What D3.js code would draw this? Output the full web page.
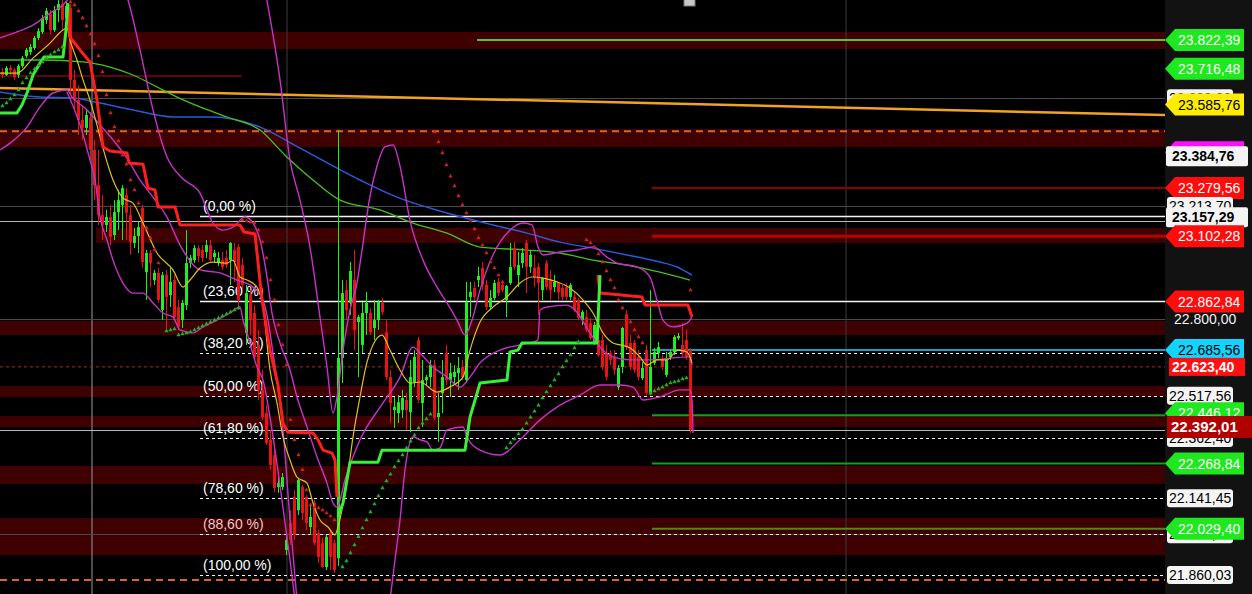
<!DOCTYPE html>
<html><head><meta charset="utf-8">
<script src="https://cdn.jsdelivr.net/npm/d3@7"></script>
<style>
body{margin:0;background:#000;overflow:hidden}
svg{display:block;font-family:"Liberation Sans",Arial,sans-serif}
</style></head>
<body><svg id="c" width="1252" height="594"></svg>
<script>
// ---------------- DATA ----------------
const candleOpen=[23705,23694,23720,23712,23694,23727,23764,23778,23793,23830,23852,23896,23918,23859,23932,23954,23903,23940,23676,23602,23529,23500,23536,23419,23290,23180,23144,23173,23107,23191,23217,23254,23180,23078,23103,23206,22971,23041,22942,22968,22832,22960,22887,22942,22843,22795,22850,23004,23015,23059,23052,23045,23070,23026,23008,23015,23023,23015,23052,23063,22997,22748,22887,22821,22704,22539,22454,22356,22300,22183,22183,21952,22051,22146,22098,22183,22146,22036,22124,22014,21977,21889,22014,21977,21922,22656,22905,22858,22942,22788,22704,22821,22821,22766,22795,22858,22751,22586,22465,22454,22465,22502,22458,22564,22722,22491,22575,22586,22630,22439,22527,22674,22575,22586,22601,22623,22575,22880,22913,22942,22986,22924,22843,22876,22935,22924,22869,22931,23059,22960,23004,23078,22990,22986,22990,22905,23004,22942,22916,22931,22913,22916,22880,22880,22869,22795,22806,22784,22715,22722,22722,22674,22674,22660,22549,22623,22814,22711,22711,22660,22582,22685,22528,22638,22674,22649,22594,22660,22678,22729,22704,22722,22685];
const candleHigh=[23720,23727,23731,23720,23734,23764,23793,23808,23837,23866,23914,23940,23932,23947,23969,23969,23962,23954,23712,23657,23584,23566,23558,23456,23419,23254,23199,23217,23235,23272,23290,23279,23217,23133,23155,23217,23052,23052,22979,22986,22971,22979,22986,22960,22869,22869,23125,23034,23070,23070,23070,23089,23089,23052,23045,23045,23052,23081,23078,23074,23023,22924,22905,22850,22759,22612,22483,22392,22337,22219,22234,22007,22098,22172,22216,22190,22153,22117,22135,22025,21996,22007,22025,21989,23492,22942,22942,23008,23052,22814,22861,22898,22839,22869,22869,22876,22795,22612,22513,22520,22539,22527,22649,22685,22733,22649,22594,22649,22649,22527,22649,22704,22638,22630,22660,22649,22935,22935,22935,22990,23008,22942,22905,22942,22949,22942,22924,23078,23081,23045,23059,23089,23052,23034,23004,22953,23015,22979,22960,22935,22924,22931,22931,22898,22876,22832,22832,22803,22788,22740,22740,22704,22685,22685,22630,22770,22832,22740,22722,22685,22641,22704,22905,22693,22715,22667,22678,22685,22740,22748,22784,22759,22693];
const candleLow=[23683,23690,23694,23676,23683,23720,23756,23767,23786,23822,23844,23881,23844,23852,23888,23859,23859,23621,23566,23474,23456,23474,23382,23235,23144,23089,23118,23070,23089,23125,23089,23089,23034,23059,23041,22986,22869,22916,22924,22858,22795,22759,22843,22795,22759,22766,22832,22986,23004,23008,23008,23023,23008,23008,22993,22979,22986,22924,22935,22832,22905,22704,22740,22649,22502,22429,22337,22246,22164,22161,22172,21933,21970,21989,22080,22062,22025,22007,21970,21904,21886,21878,21878,21867,21893,22564,22795,22814,22685,22586,22674,22740,22740,22722,22759,22814,22575,22417,22399,22417,22436,22392,22384,22549,22491,22403,22557,22549,22429,22348,22454,22557,22513,22557,22539,22575,22564,22806,22869,22916,22905,22832,22832,22869,22883,22898,22806,22924,22979,22916,22986,22894,22968,22916,22814,22869,22905,22869,22898,22869,22869,22869,22869,22825,22795,22777,22751,22722,22704,22660,22612,22575,22630,22594,22539,22601,22685,22612,22601,22575,22575,22520,22520,22630,22656,22612,22586,22649,22667,22722,22660,22649,22381];
const candleClose=[23694,23720,23712,23687,23727,23756,23786,23797,23830,23855,23903,23929,23859,23932,23954,23896,23947,23676,23602,23529,23500,23547,23419,23290,23180,23144,23173,23100,23191,23235,23279,23188,23081,23103,23136,23008,23041,23004,22968,22869,22960,22880,22935,22806,22770,22858,23004,23023,23059,23030,23023,23070,23015,23041,23023,22990,22997,23078,23008,22869,22924,22894,22795,22660,22539,22439,22344,22263,22179,22197,22219,21989,21989,22007,22209,22087,22051,22073,21977,21926,21889,22000,21926,21878,22656,22894,22832,22975,22759,22806,22821,22858,22751,22795,22861,22825,22586,22491,22476,22494,22509,22465,22586,22660,22502,22575,22586,22630,22436,22454,22586,22575,22601,22605,22619,22586,22861,22898,22880,22957,22924,22843,22876,22931,22894,22905,22920,22990,22990,22997,23041,22990,23034,22953,22931,22949,22916,22905,22935,22898,22880,22880,22924,22832,22803,22825,22759,22729,22777,22667,22623,22586,22649,22612,22619,22766,22696,22623,22612,22586,22619,22528,22623,22678,22696,22623,22649,22678,22733,22737,22674,22660,22392];
// parabolic SAR per candle (null = no dot)
const sarValue=[23580,23591,23606,23621,23639,23665,23683,23701,23716,23731,23742,23756,23767,23778,23786,23797,null,23962,23951,23929,23903,23874,23844,23808,23764,23705,23621,23555,23503,23452,23400,23367,23309,23272,23224,23180,23133,23096,23052,23004,null,22755,22759,22762,22740,22744,22748,22751,22759,22766,22773,22781,22788,22795,22803,22810,22817,22825,22832,22839,23162,23158,23155,23151,23125,23081,23023,22942,22869,22777,22704,22630,22429,22356,22300,22246,22172,22117,22109,22106,22098,22087,22076,22062,null,21889,21911,21941,21970,22000,22032,22062,22091,22120,22150,22179,22205,22230,22256,22278,22300,22326,22351,22373,22399,22417,22432,22450,23485,23448,23408,23364,23323,23287,23250,23217,23188,23158,23129,23096,23070,23041,23008,22986,22960,22935,22326,22344,22359,22377,22395,22417,22439,22461,22483,22509,22531,22553,22575,22597,22623,22645,22667,22693,22715,null,23089,23078,23063,23037,23008,22975,22942,22913,22869,22839,22814,22788,22759,22733,22711,22663,22527,22535,22542,22549,22557,22564,22568,22572,22579,22583,22905];
// indicator lines: [candle index, price]
const maFast=[[-0.5,23701],[3.75,23701],[7.75,23756],[12,23811],[15.25,23859],[16.25,23866],[17,23822],[18.75,23749],[20.25,23676],[22,23602],[23.75,23510],[25.25,23426],[27.75,23309],[30.25,23243],[32.75,23224],[35.25,23151],[38.75,23041],[42.75,22979],[45.25,22916],[47,22942],[49.5,22986],[52.75,23008],[56.25,23004],[57.75,23015],[59.5,22953],[61.25,22942],[63.75,22916],[65.25,22843],[67,22612],[68.75,22491],[70.25,22366],[72,22282],[73.75,22219],[76.25,22197],[77.75,22124],[79.5,22062],[81.5,22036],[83.25,22007],[84,22036],[86.25,22209],[87.75,22366],[89.5,22513],[91.25,22641],[95,22740],[97,22685],[99.5,22612],[102,22564],[104.5,22568],[108.75,22531],[112,22550],[115.25,22586],[117,22685],[119.5,22788],[122.75,22843],[126.25,22880],[129.5,22931],[132.5,22953],[135.25,22949],[138.75,22935],[142,22913],[145.25,22869],[147.75,22821],[150.25,22748],[152.75,22711],[154.5,22704],[157,22693],[159.5,22660],[161.25,22630],[163.75,22649],[166.25,22649],[169,22685],[171.25,22678],[172.5,22638]];
const maBlue=[[-0.5,23632],[9.5,23613],[17.75,23610],[24.5,23591],[32.75,23566],[42.75,23540],[52.75,23540],[64.5,23503],[74.5,23426],[89.5,23309],[98.75,23246],[111.25,23188],[122.75,23144],[131.25,23114],[139.5,23081],[147.75,23059],[156.25,23034],[164.5,23008],[168.75,22990],[172.5,22960]];
const maGreen=[[-0.5,23749],[10.25,23749],[20.25,23742],[27,23723],[32.75,23694],[38.75,23650],[43.75,23613],[49.5,23577],[56.25,23540],[64.5,23492],[70.75,23400],[77.75,23309],[84.5,23235],[94.5,23199],[102.75,23151],[111.25,23114],[119.5,23063],[131.25,23052],[139.5,23041],[147.75,23015],[156.25,22997],[164.5,22971],[172,22942]];
const bandLine1=[[-0.5,23830],[3.75,23852],[7.75,23877],[12,23921],[15.25,23951],[18.25,24006]];
const bandLine2=[[29.5,24042],[31.5,23969],[34.5,23786],[37.75,23566],[41.25,23393],[45,23316],[49.5,23261],[52.75,23151],[55.25,23125],[57.75,23136],[60.75,23173],[62.75,23151],[64.5,23089],[66.25,22953],[67.5,22821],[69.5,22711],[72,22612],[73.75,22513],[76.25,22403],[78.75,22293],[81.25,22197],[82.75,22124],[83.75,22109],[85.75,22209],[89.5,22356],[95.25,22491],[99.5,22586],[102.75,22696],[104.5,22674],[107.75,22623],[111.25,22586],[114.5,22549],[117,22586],[119.5,22638],[124.5,22685],[129.5,22704],[134,22722],[134.5,22832],[136.25,22843],[141.25,22850],[143.25,22832],[147,22748],[149.5,22696],[152.75,22660],[157,22649],[161.25,22649],[172,22660],[172.5,22630]];
const bandLine3=[[-0.5,23419],[2,23444],[6.25,23503],[9.5,23577],[12.75,23628],[16.25,23639],[17.5,23613],[21.25,23566],[24.5,23511],[27.75,23456],[31.25,23389],[34.5,23309],[37.75,23246],[41.25,23173],[44.5,23070],[49.5,22979],[54.5,22968],[58.75,22942],[62.75,22916],[65.25,22869],[66.5,22795],[67.75,22674],[68.75,22575],[70.25,22392],[72,22062],[73.75,21768]];
const bandLine4=[[16.25,23632],[19.5,23511],[22,23382],[23.25,23309],[24.5,23173],[26.25,23089],[27.75,23015],[30.25,22931],[32.75,22894],[35.25,22894],[37.75,22858],[40.25,22821],[42.75,22806],[44.5,22759],[47.75,22748],[50.25,22770],[53.75,22795],[57,22821],[59.5,22843],[60.25,22795],[61.25,22748],[63.75,22623],[65.25,22575],[67.5,22392],[70,22135],[72,21915],[73.25,21768]];
const bandLine5=[[65.75,24006],[69.5,23676],[72,23382],[74.5,23235],[77,23063],[79.5,22806],[81.25,22623],[82.75,22454],[83.75,22513],[85.25,22685],[87,22832],[88.75,22931],[90,23052],[92,23250],[93.75,23360],[95.75,23430],[97.75,23437],[99.5,23360],[102,23160],[105.25,23015],[108.75,22916],[111.25,22858],[113.75,22795],[115.75,22740],[117.5,22795],[119.5,22905],[122.75,23034],[127,23125],[130.25,23151],[132.5,23144],[134,23063],[135.25,23034],[139.5,23045],[143.75,23052],[147.75,23063],[151.25,23026],[153.75,23004],[158.75,22990],[162,22953],[163.75,22869],[165.25,22795],[167.75,22770],[171.25,22784],[172.5,22806]];
const bandLine6=[[97,21768],[98.25,21915],[99.5,22062],[100.75,22246],[102.75,22366],[104.5,22356],[106.25,22348],[107.75,22318],[109.5,22326],[111.25,22392],[115.25,22403],[116.25,22366],[119.5,22318],[124.5,22300],[129.5,22356],[134.5,22429],[139.5,22483],[144.5,22520],[149.5,22557],[154.5,22557],[157.75,22549],[160.25,22502],[164.5,22513],[169.5,22539],[172,22539],[172.5,22502],[172.75,22381]];
const trendDown1=[[16.5,23951],[17,23833],[19.5,23786],[22,23742],[23.75,23602],[25.25,23430],[27,23415],[31.25,23408],[31.75,23371],[35.25,23367],[36.5,23279],[38.25,23272],[39,23210],[43.25,23210],[44.5,23144],[59.5,23144],[60.5,23118],[63.25,23111],[65,22869],[67,22685],[69,22557],[70.25,22417],[71.5,22384],[77.75,22381],[79,22356],[80.25,22318],[82.5,22307],[83.25,22282],[83.75,22146]];
const trendDown2=[[149,22960],[149.5,22894],[160,22880],[160.75,22850],[171.5,22850],[172.5,22806]];
const trendUp1=[[-0.5,23555],[3.75,23555],[5,23584],[6.25,23628],[7.75,23694],[9.5,23738],[10.5,23760],[15.25,23760],[16,23859],[16.5,23958]];
const trendUp2=[[84,22073],[85.25,22124],[87,22274],[94,22274],[95,22318],[115.75,22318],[117,22439],[119.5,22564],[126.25,22575],[127,22678],[129,22685],[130,22711],[148.75,22711],[149.5,22960]];
const orangeTrend=[[-0.5,23646],[290.75,23547]];
// zones
const zoneHigh=[23852,23496,23133,22792,22553,22443,22260,22069];
const zoneLow=[23789,23430,23078,22740,22513,22403,22194,21933];
const zoneStart=[-0.5,-0.5,23.5,-0.5,-0.5,-0.5,-0.5,-0.5];
// fibonacci
const fibPrices=[23175.09,22864.74,22672.74,22517.56,22362.40,22141.45,22009.95,21860.03];
const fibLabels=["(0,00 %)","(23,60 %)","(38,20 %)","(50,00 %)","(61,80 %)","(78,60 %)","(88,60 %)","(100,00 %)"];
const fibDashed=[false,false,true,true,true,true,true,true];
// level lines
const levelPrices=[23822.39,23279.56,23102.28,22685.56,22446.12,22268.84,22029.40];
const levelColors=["#62c11a","#8c0000","#b80000","#1a9cc4","#1c9a1c","#1c9a1c","#4f8a12"];
const levelWidths=[2,2,3,2,2,2,2];
const levelStart=[118.75,162.5,162.5,162.5,162.5,162.5,162.5];
const grayLinePrices=[23609,23213.70,22800,22009.95];
const lightLinePrices=[23157.29,22392.01];
// price tags
const tagPrices=[23609.00,23822.39,23716.48,23585.76,23411.00,23384.76,23279.56,23213.70,23157.29,23102.28,22862.84,22685.56,22623.40,22517.56,22446.12,22362.40,22392.01,22268.84,22141.45,22009.95,22029.40,21860.03];
const tagKinds=["white","green","green","yellow","magenta","whiteBold","red","white","whiteBold","red","red","cyan","redRect","white","green","white","darkRed","green","white","white","green","white"];
const axisTicks=[22800.00];
const gridIdx=[22.5,71.25,211];

// ---------------- CHART ----------------
const W=1252,H=594,PR=1165;
// pixel nudges for stacked price tags (layout only)
const tagNudge={5:-3,8:-4,14:-2,16:-3};
const svg=d3.select("#c");
const x=d3.scaleLinear().domain([0,290.75]).range([2,PR]);
const y=d3.scaleLinear().domain([21860.03,23822.39]).range([575,40]);
const fmt=d3.formatLocale({decimal:",",thousands:".",grouping:[3],currency:["",""]}).format(",.2f");

svg.append("rect").attr("width",W).attr("height",H).attr("fill","#000");
svg.append("rect").attr("x",PR).attr("width",W-PR).attr("height",H).attr("fill","#121212");
svg.append("defs").append("clipPath").attr("id","plot").append("rect").attr("width",PR).attr("height",H);
const g=svg.append("g").attr("clip-path","url(#plot)");

// zones
g.selectAll(".zone").data(zoneHigh).join("rect")
 .attr("x",(d,i)=>x(zoneStart[i])).attr("width",(d,i)=>PR-x(zoneStart[i]))
 .attr("y",d=>y(d)).attr("height",(d,i)=>y(zoneLow[i])-y(d)).attr("fill","#3e0000");
g.append("line").attr("x1",x(-0.5)).attr("x2",x(60)).attr("y1",y(23690)).attr("y2",y(23690)).attr("stroke","#5c0606").attr("stroke-width",2);

// grid
g.selectAll(".vg").data(gridIdx).join("line").attr("x1",d=>x(d)).attr("x2",d=>x(d)).attr("y1",0).attr("y2",H)
 .attr("stroke",(d,i)=>i==0?"#9a9a9a":"#3c3c3c").attr("stroke-width",1);
g.selectAll(".gl").data(grayLinePrices).join("line").attr("x1",0).attr("x2",PR).attr("y1",d=>Math.round(y(d))+0.5).attr("y2",d=>Math.round(y(d))+0.5).attr("stroke","#4a4a4a");
g.selectAll(".ll").data(lightLinePrices).join("line").attr("x1",0).attr("x2",PR).attr("y1",d=>Math.round(y(d))+0.5).attr("y2",d=>Math.round(y(d))+0.5).attr("stroke","#b8b8b8");

// dashed levels
[[23488,"#d9652c",2,"7,5"],[21842,"#d9652c",2,"7,5"],[22623.40,"#b42020",1,"3,3"]].forEach(l=>{
 g.append("line").attr("x1",0).attr("x2",PR).attr("y1",y(l[0])).attr("y2",y(l[0])).attr("stroke",l[1]).attr("stroke-width",l[2]).attr("stroke-dasharray",l[3]);
});

// fib lines
g.selectAll(".fib").data(fibPrices).join("line").attr("x1",x(49.5)).attr("x2",PR)
 .attr("y1",d=>Math.round(y(d))+0.5).attr("y2",d=>Math.round(y(d))+0.5)
 .attr("stroke","#f4f4f4").attr("stroke-width",(d,i)=>fibDashed[i]?1:1.5).attr("stroke-dasharray",(d,i)=>fibDashed[i]?"3,3":null);
g.selectAll(".fibt").data(fibPrices).join("text").attr("x",x(50.25)).attr("y",d=>y(d)-5)
 .text((d,i)=>fibLabels[i]).attr("fill",(d,i)=>i==6?"#f4c8c8":"#ffffff").attr("font-size",14);

// level lines
g.selectAll(".lvl").data(levelPrices).join("line").attr("x1",(d,i)=>x(levelStart[i])).attr("x2",PR)
 .attr("y1",d=>y(d)).attr("y2",d=>y(d)).attr("stroke",(d,i)=>levelColors[i]).attr("stroke-width",(d,i)=>levelWidths[i]);

// moving averages
const line=d3.line().x(d=>x(d[0])).y(d=>y(d[1]));
const smooth=d3.line().x(d=>x(d[0])).y(d=>y(d[1])).curve(d3.curveMonotoneX);
g.append("path").attr("d",line(orangeTrend)).attr("stroke","#f2a222").attr("stroke-width",2.5).attr("fill","none");
g.append("path").attr("d",smooth(maBlue)).attr("stroke","#2a5ad8").attr("stroke-width",1.5).attr("fill","none");
g.append("path").attr("d",smooth(maGreen)).attr("stroke","#48c020").attr("stroke-width",1.3).attr("fill","none");

// candles
const idx=d3.range(candleClose.length);
const up=i=>candleClose[i]>=candleOpen[i];
g.selectAll(".wick").data(idx).join("line").attr("x1",i=>x(i)+0.5).attr("x2",i=>x(i)+0.5)
 .attr("y1",i=>y(candleHigh[i])).attr("y2",i=>y(candleLow[i])).attr("stroke",i=>up(i)?"#1ef01e":"#ea1212").attr("stroke-width",1);
g.selectAll(".body").data(idx).join("rect").attr("x",i=>x(i)-1).attr("width",3)
 .attr("y",i=>y(Math.max(candleOpen[i],candleClose[i])))
 .attr("height",i=>Math.max(1.5,Math.abs(y(candleOpen[i])-y(candleClose[i]))))
 .attr("fill",i=>up(i)?"#1ef01e":"#ea1212");

// band lines
[bandLine1,bandLine2,bandLine3,bandLine4,bandLine5,bandLine6].forEach(b=>{
 g.append("path").attr("d",smooth(b)).attr("stroke","#c832c8").attr("stroke-width",1.4).attr("fill","none");
});
g.append("path").attr("d",smooth(maFast)).attr("stroke","#e2c020").attr("stroke-width",1.2).attr("fill","none");

// trend lines
[trendDown1,trendDown2].forEach(t=>g.append("path").attr("d",line(t)).attr("stroke","#ff1e1e").attr("stroke-width",3).attr("fill","none").attr("stroke-linejoin","round"));
[trendUp1,trendUp2].forEach(t=>g.append("path").attr("d",line(t)).attr("stroke","#38f038").attr("stroke-width",3).attr("fill","none").attr("stroke-linejoin","round"));

// SAR
const tri=d3.symbol(d3.symbolTriangle).size(8)();
g.selectAll(".sar").data(idx.filter(i=>sarValue[i]!=null)).join("path").attr("d",tri)
 .attr("transform",i=>`translate(${x(i)+0.5},${y(sarValue[i])})`)
 .attr("fill",i=>sarValue[i]>candleClose[i]?"#d02020":"#22b022");

// top marker
svg.append("rect").attr("x",x(170.5)).attr("y",-1).attr("width",11).attr("height",7).attr("fill","#c8c8c8").attr("stroke","#777");

// axis (plain tick)
const ax=svg.append("g").attr("transform",`translate(${PR+6},0)`).call(d3.axisRight(y).tickValues(axisTicks).tickSize(0).tickFormat(fmt));
ax.select(".domain").remove();
ax.selectAll("text").attr("fill","#f0f0f0").attr("font-size",14).attr("font-family","Liberation Sans, Arial");

// price tags
const tagFill={green:"#1fe81f",red:"#ff0c0c",yellow:"#ffec00",cyan:"#12d4ff",magenta:"#ff10ff"};
const tagText={green:"#fff",red:"#fff",yellow:"#000",cyan:"#000",magenta:"#fff"};
const tg=svg.append("g");
tagPrices.forEach((p,i)=>{
 const k=tagKinds[i], cy=y(p)+(tagNudge[i]||0), gg=tg.append("g");
 let tx=1178,fw="normal",fs=14,tc="#000";
 if(tagFill[k]){
  gg.append("path").attr("d",`M${PR},${cy} L${PR+10},${cy-11} L1244,${cy-11} L1244,${cy+11} L${PR+10},${cy+11} Z`).attr("fill",tagFill[k]);
  tc=tagText[k];
 } else if(k=="white"){
  gg.append("rect").attr("x",1167).attr("y",cy-9).attr("width",66).attr("height",18).attr("rx",3).attr("fill","#f4f4f4");
  tx=1169;
 } else if(k=="whiteBold"){
  gg.append("rect").attr("x",1166).attr("y",cy-10).attr("width",82).attr("height",20).attr("rx",2).attr("fill","#f4f4f4");
  tx=1172;fw="bold";
 } else if(k=="redRect"){
  gg.append("rect").attr("x",1169).attr("y",cy-9).attr("width",76).attr("height",18).attr("fill","#ff1010");
  tx=1172;fw="bold";tc="#fff";
 } else if(k=="darkRed"){
  gg.append("rect").attr("x",1167).attr("y",cy-11).attr("width",85).attr("height",22).attr("fill","#b00000");
  tx=1171;fw="bold";fs=15;tc="#fff";
 }
 gg.append("text").attr("x",tx).attr("y",cy).attr("dy","0.36em").text(fmt(p))
  .attr("fill",tc).attr("font-size",fs).attr("font-weight",fw);
});
</script></body></html>
